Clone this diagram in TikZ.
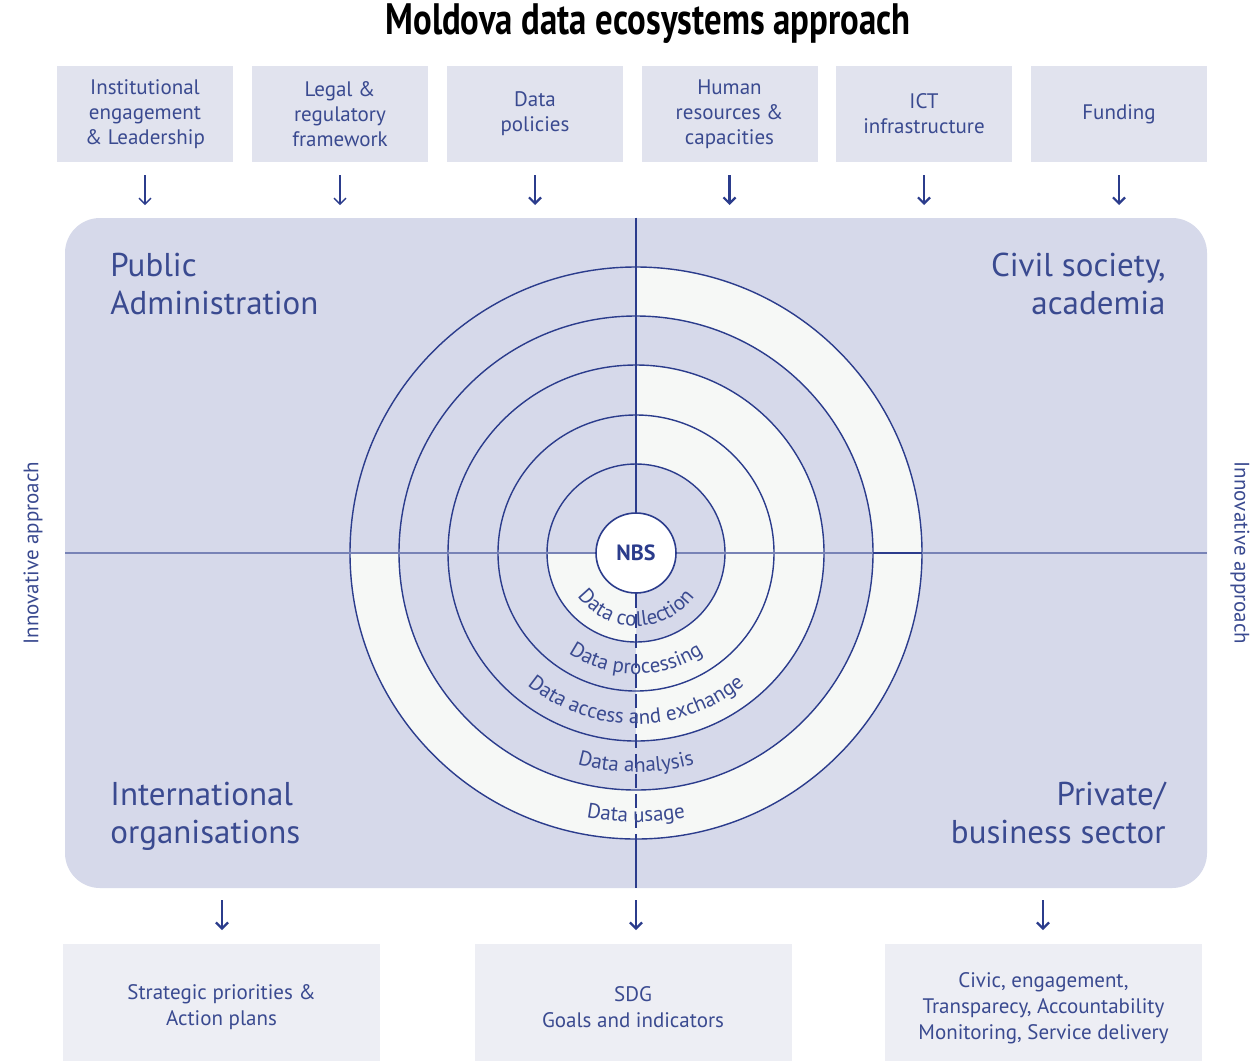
\documentclass[tikz,border=0pt]{standalone}
\usepackage{fontspec}
\setmainfont{PT Sans}
\usetikzlibrary{arrows.meta,decorations.text}
\definecolor{navy}{HTML}{2B3C8C}
\definecolor{txt}{HTML}{3A4A90}
\definecolor{lav}{HTML}{D6D9EA}
\definecolor{topfill}{HTML}{E1E3EE}
\definecolor{botfill}{HTML}{EDEEF4}
\definecolor{lightfill}{HTML}{F6F8F6}
\tikzset{
  topbox/.style={rectangle, fill=topfill, minimum width=88pt, minimum height=48pt, inner sep=0pt, text=txt, align=center, font=\fontsize{10.5}{12.5}\selectfont},
  botbox/.style={rectangle, fill=botfill, minimum width=158.5pt, minimum height=58.5pt, inner sep=0pt, text=txt, align=center, font=\fontsize{10.5}{13}\selectfont},
  arr/.style={navy, line width=0.9pt, -{Straight Barb[length=3pt,width=6pt]}},
  ring/.style={navy, line width=0.7pt},
  corner/.style={text=txt, inner sep=0pt, font=\fontsize{16.5}{19}\selectfont},
  side/.style={text=txt, inner sep=0pt, font=\fontsize{10.5}{12}\selectfont},
  ringtext/.style={decorate, decoration={text along path, text align=center, text color=txt}},
}
\begin{document}
\begin{tikzpicture}[x=0.5pt,y=0.5pt]
\useasboundingbox (0,0) rectangle (1258,-1061);
\fill[white] (0,0) rectangle (1258,-1061);
% title
\node (title) at (648,-24) {\scalebox{0.79}[1]{\fontsize{22}{22}\selectfont\bfseries Moldova data ecosystems approach}};
% top boxes
\node[topbox] (t1) at (145,-114) {Institutional\\engagement\\\& Leadership};
\node[topbox] (t2) at (340,-114) {Legal \&\\regulatory\\framework};
\node[topbox] (t3) at (535,-114) {Data\\policies};
\node[topbox] (t4) at (729.5,-114) {Human\\resources \&\\capacities};
\node[topbox] (t5) at (924,-114) {ICT\\infrastructure};
\node[topbox] (t6) at (1119,-114) {Funding};
% main box
\node[fill=lav, rounded corners=17.5pt, minimum width=571pt, minimum height=335pt, inner sep=0pt] (main) at (636,-553) {};
\coordinate (C) at (636,-553);
% top arrows
\foreach \i/\x/\w in {1/145/0.7pt,2/340/0.7pt,3/535/1.1pt,4/729.5/1.1pt,5/924/1.1pt,6/1119/1.1pt}{
  \coordinate (as\i) at (\x,-175);
  \coordinate (ae\i) at (\x,-205);
  \draw[arr, line width=\w] (as\i) -- (ae\i);
}
% light sectors
\begin{scope}
  \clip (636,-250) rectangle (940,-860);
  \fill[lightfill, even odd rule] (C) circle[radius=188] (C) circle[radius=89];
  \fill[lightfill, even odd rule] (C) circle[radius=286] (C) circle[radius=237];
\end{scope}
\begin{scope}
  \clip (330,-553) rectangle (636,-860);
  \fill[lightfill, even odd rule] (C) circle[radius=286] (C) circle[radius=237];
  \fill[lightfill, even odd rule] (C) circle[radius=89] (C) circle[radius=40];
\end{scope}
% circles
\foreach \r in {89,138,188,237,286} \draw[ring] (C) circle[radius=\r];
% axes
\coordinate (hl) at (65,-553);
\coordinate (hr) at (1207,-553);
\draw[navy!55!lav, line width=1.3pt] (hl) -- (hr);
\coordinate (t4a) at (873,-553);
\coordinate (t4b) at (922,-553);
\draw[navy, line width=1.4pt] (t4a) -- (t4b);
% NBS
\node[circle, draw=navy, line width=0.8pt, fill=white, minimum size=40pt, inner sep=0pt, text=navy, font=\fontsize{11}{11}\selectfont\bfseries] (nbs) at (C) {NBS};
\coordinate (vb) at (636,-839);
\draw[navy, line width=0.9pt] (main.north) -- (nbs.north);
\draw[navy, line width=0.9pt, dash pattern=on 7pt off 3pt] (nbs.south) -- (vb);
\draw[navy, line width=0.9pt] (vb) -- (main.south);
% ring texts
\path[ringtext, decoration={text={|\fontsize{10.5}{10.5}\selectfont|Data collection}}] (563,-553) arc[start angle=180, end angle=360, radius=73];
\path[ringtext, decoration={text={|\fontsize{10.5}{10.5}\selectfont|Data processing}}] (515,-553) arc[start angle=180, end angle=360, radius=121];
\path[ringtext, decoration={text={|\fontsize{10.5}{10.5}\selectfont|Data access and exchange}}] (465,-553) arc[start angle=180, end angle=360, radius=171];
\path[ringtext, decoration={text={|\fontsize{10.5}{10.5}\selectfont|Data analysis}}] (417,-553) arc[start angle=180, end angle=360, radius=219];
\path[ringtext, decoration={text={|\fontsize{10.5}{10.5}\selectfont|Data usage}}] (367,-553) arc[start angle=180, end angle=360, radius=269];
% corner labels
\node[corner, anchor=north west, align=left] (pa) at (110,-253) {Public\\Administration};
\node[corner, anchor=north east, align=right] (cs) at (1166,-253) {Civil society,\\academia};
\node[corner, anchor=north west, align=left] (io) at (110,-782) {International\\organisations};
\node[corner, anchor=north east, align=right] (pb) at (1166,-782) {Private/\\business sector};
% side labels
\node[side, rotate=90] (il) at (33,-553) {Innovative approach};
\node[side, rotate=-90] (ir) at (1240,-553) {Innovative approach};
% bottom arrows
\foreach \i/\x in {1/222,2/636,3/1043}{
  \coordinate (bs\i) at (\x,-900);
  \coordinate (be\i) at (\x,-930);
  \draw[arr, line width=1.1pt] (bs\i) -- (be\i);
}
% bottom boxes
\node[botbox] (b1) at (221.5,-1002.5) {};
\node[botbox] (b2) at (633,-1002.5) {};
\node[botbox] (b3) at (1043.5,-1002.5) {};
\node[text=txt, align=center, font=\fontsize{10.5}{13}\selectfont] (b1t) at (221.5,-1007.5) {Strategic priorities \&\\Action plans};
\node[text=txt, align=center, font=\fontsize{10.5}{13}\selectfont] (b2t) at (633,-1007.5) {SDG\\Goals and indicators};
\node[text=txt, align=center, font=\fontsize{10.5}{13}\selectfont] (b3t) at (1043.5,-1008) {Civic, engagement,\\Transparecy, Accountability\\Monitoring, Service delivery};
\end{tikzpicture}
\end{document}
